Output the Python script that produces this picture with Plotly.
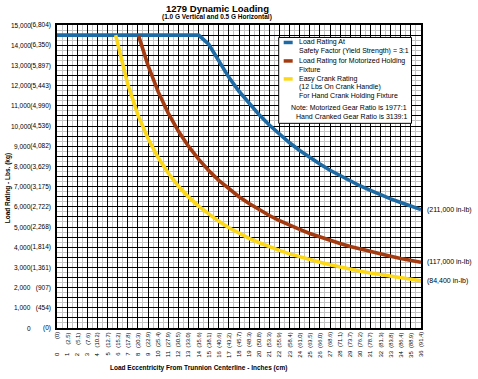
import plotly.graph_objects as go

# ---------------- data ----------------
blue_x = [0, 14, 15, 16, 17, 18, 19, 20, 21, 22, 23, 24, 25, 26, 27, 28, 29, 30, 31, 32, 33, 34, 35, 36]
blue_y = [14500, 14500, 14050, 13190, 12410, 11720, 11100, 10550, 10050, 9590, 9170, 8790, 8440, 8120,
          7810, 7540, 7280, 7030, 6810, 6590, 6390, 6210, 6030, 5860]

red_x = [8.05, 9, 10, 11, 12, 13, 14, 15, 16, 17, 18, 19, 20, 21, 22, 23, 24, 25, 26, 27, 28, 29, 30,
         31, 32, 33, 34, 35, 36]
red_y = [14500, 13000, 11700, 10640, 9750, 9000, 8360, 7800, 7310, 6880, 6500, 6160, 5850, 5570, 5320,
         5090, 4880, 4680, 4500, 4330, 4180, 4030, 3900, 3770, 3660, 3550, 3440, 3340, 3250]

yellow_x = [5.8, 6, 7, 8, 9, 10, 11, 12, 13, 14, 15, 16, 17, 18, 19, 20, 21, 22, 23, 24, 25, 26, 27, 28,
            29, 30, 31, 32, 33, 34, 35, 36]
yellow_y = [14500, 14070, 12060, 10550, 9380, 8440, 7670, 7030, 6490, 6030, 5630, 5280, 4960, 4690, 4440,
            4220, 4020, 3840, 3670, 3520, 3380, 3250, 3130, 3010, 2910, 2810, 2720, 2640, 2560, 2480,
            2410, 2340]

lbs_ticks = [0, 1000, 2000, 3000, 4000, 5000, 6000, 7000, 8000, 9000, 10000, 11000, 12000, 13000, 14000, 15000]
lbs_labels = ["0", "1,000", "2,000", "3,000", "4,000", "5,000", "6,000", "7,000", "8,000", "9,000",
              "10,000", "11,000", "12,000", "13,000", "14,000", "15,000"]
kg_labels = ["(0)", "(454)", "(907)", "(1,361)", "(1,814)", "(2,268)", "(2,722)", "(3,175)", "(3,629)",
             "(4,082)", "(4,536)", "(4,990)", "(5,443)", "(5,897)", "(6,350)", "(6,804)"]

inch_ticks = list(range(0, 37))
cm_labels = ["(0)", "(2.5)", "(5.1)", "(7.6)", "(10.2)", "(12.7)", "(15.2)", "(17.8)", "(20.3)", "(22.9)",
             "(25.4)", "(27.9)", "(30.5)", "(33.0)", "(35.6)", "(38.1)", "(40.6)", "(43.2)", "(45.7)",
             "(48.3)", "(50.8)", "(53.3)", "(55.9)", "(58.4)", "(61.0)", "(63.5)", "(66.0)", "(68.6)",
             "(71.1)", "(73.7)", "(76.2)", "(78.7)", "(81.3)", "(83.8)", "(86.4)", "(88.9)", "(91.4)"]

end_labels = ["(211,000 in-lb)", "(117,000 in-lb)", "(84,400 in-lb)"]

# ---------------- styling ----------------
BLUE = "#1d6aa5"
RED = "#a43a10"
YELLOW = "#fdd817"
FONT = "Liberation Sans, Arial, sans-serif"

W, H = 478, 379
L, R, T, B = 57, 421.5, 24.5, 328  # plot area in px


def px(xp):
    return (xp - L) / (R - L)


def py(yp):
    return (B - yp) / (B - T)


fig = go.Figure()
for xs, ys, c in [(blue_x, blue_y, BLUE), (red_x, red_y, RED), (yellow_x, yellow_y, YELLOW)]:
    fig.add_trace(go.Scatter(x=xs, y=ys, mode="lines", line=dict(color=c, width=3.6),
                             showlegend=False, hoverinfo="skip"))

# y tick text: kg on axis, lbs as annotations
y_tickvals = list(range(0, 15001, 500))
y_ticktext = []
for v in y_tickvals:
    y_ticktext.append(kg_labels[lbs_ticks.index(v)] if v in lbs_ticks else "")

fig.update_layout(
    width=W, height=H,
    margin=dict(l=L, r=W - R, t=T, b=H - B, pad=0),
    paper_bgcolor="white", plot_bgcolor="white",
    font=dict(family=FONT, color="black", size=7),
    xaxis=dict(range=[0, 36], tickvals=inch_ticks, showticklabels=False,
               showgrid=True, gridcolor="black", gridwidth=1,
               minor=dict(dtick=0.5, showgrid=True, gridcolor="#c4c4c4", gridwidth=1),
               showline=True, linecolor="black", linewidth=1.5, mirror=True,
               zeroline=False, ticks=""),
    yaxis=dict(range=[0, 15000], tickvals=y_tickvals, ticktext=y_ticktext,
               tickfont=dict(size=6.5), showgrid=True, gridcolor="black", gridwidth=1,
               minor=dict(dtick=250, showgrid=True, gridcolor="#c4c4c4", gridwidth=1),
               showline=True, linecolor="black", linewidth=1.5, mirror=True,
               zeroline=False, ticks="", ticklabelstandoff=3),
)

ann = []
# lbs labels
for v, t in zip(lbs_ticks, lbs_labels):
    ann.append(dict(x=0, xref="paper", y=v, yref="y", text=t, showarrow=False,
                    xanchor="right", yanchor="middle", xshift=-(L - 33), font=dict(size=6.5)))
# cm and inch labels along the x axis
for v, t in zip(inch_ticks, cm_labels):
    ann.append(dict(x=v, xref="x", y=0, yref="paper", text=t, showarrow=False, textangle=-90,
                    xanchor="center", yanchor="top", yshift=-2.5, font=dict(size=5.8)))
    ann.append(dict(x=v, xref="x", y=0, yref="paper", text=str(v), showarrow=False, textangle=-90,
                    xanchor="center", yanchor="middle", yshift=-(354 - B), font=dict(size=6)))

# titles
ann.append(dict(x=px(218), xref="paper", y=py(8), yref="paper", text="<b>1279 Dynamic Loading</b>",
                showarrow=False, xanchor="center", yanchor="middle", font=dict(size=9.5)))
ann.append(dict(x=px(217), xref="paper", y=py(16), yref="paper",
                text="<b>(1.0 G Vertical and 0.5 G Horizontal)</b>",
                showarrow=False, xanchor="center", yanchor="middle", font=dict(size=6.5)))
ann.append(dict(x=px(199), xref="paper", y=py(368), yref="paper",
                text="<b>Load Eccentricity From Trunnion Centerline - Inches (cm)</b>",
                showarrow=False, xanchor="center", yanchor="middle", font=dict(size=6.5)))
ann.append(dict(x=px(8), xref="paper", y=py(188), yref="paper", text="<b>Load Rating - Lbs. (kg)</b>",
                showarrow=False, textangle=-90, xanchor="center", yanchor="middle", font=dict(size=6.5)))

# end labels
for t, v in zip(end_labels, [blue_y[-1], red_y[-1], yellow_y[-1]]):
    ann.append(dict(x=1, xref="paper", y=v, yref="y", text=t, showarrow=False,
                    xanchor="left", yanchor="middle", xshift=4, font=dict(size=7)))

# legend box
shapes = [dict(type="rect", xref="paper", yref="paper", x0=px(279), x1=px(412), y0=py(123), y1=py(37),
               fillcolor="white", line=dict(color="black", width=1), layer="above")]
for c, yy in [(BLUE, 42), (RED, 60.5), (YELLOW, 78.5)]:
    shapes.append(dict(type="line", xref="paper", yref="paper", x0=px(284), x1=px(293),
                       y0=py(yy), y1=py(yy), line=dict(color=c, width=3.5), layer="above"))
legend_lines = [
    ("Load Rating At", 42), ("Safety Factor (Yield Strength) = 3:1", 50.5),
    ("Load Rating for Motorized Holding", 60.5), ("Fixture", 69),
    ("Easy Crank Rating", 78.5), ("(12 Lbs On Crank Handle)", 87), ("For Hand Crank Holding Fixture", 95.5),
]
for t, yy in legend_lines:
    ann.append(dict(x=px(297), xref="paper", y=py(yy), yref="paper", text=t, showarrow=False,
                    xanchor="left", yanchor="middle", font=dict(size=7)))
for t, yy in [("Note: Motorized Gear Ratio is 1977:1", 107), ("Hand Cranked Gear Ratio is 3139:1", 116)]:
    ann.append(dict(x=px(409), xref="paper", y=py(yy), yref="paper", text=t, showarrow=False,
                    xanchor="right", yanchor="middle", font=dict(size=7)))

fig.update_layout(annotations=ann, shapes=shapes)

fig.write_html("out.html", config={"displayModeBar": False},
               post_script="document.body.style.margin='0';")
